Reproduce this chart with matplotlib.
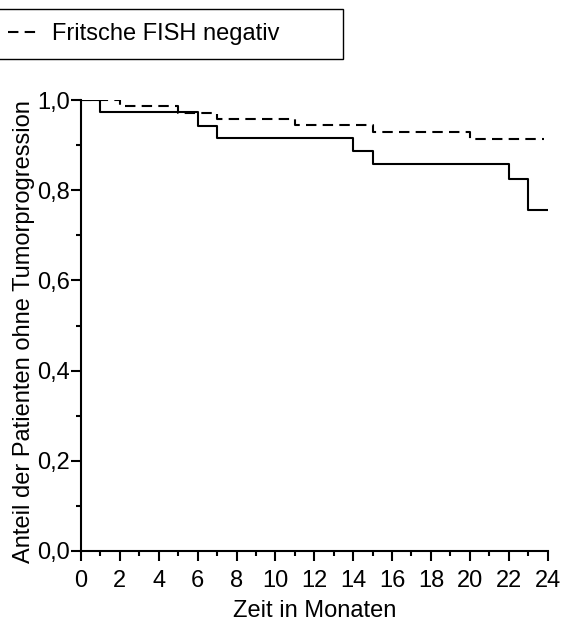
import numpy as np
import matplotlib.pyplot as plt
from matplotlib.lines import Line2D
from matplotlib.patches import Rectangle

plt.rcParams["font.family"] = ["Liberation Sans", "DejaVu Sans"]

# Kaplan-Meier steps
pos_months = [0, 1, 6, 7, 14, 15, 22, 23, 24]
pos_surv = [1.0, 0.973, 0.944, 0.917, 0.888, 0.858, 0.825, 0.756, 0.756]

neg_months = [0, 2, 5, 7, 11, 15, 20, 23.8]
neg_surv = [1.0, 0.987, 0.971, 0.958, 0.945, 0.929, 0.914, 0.914]

xticks = list(range(0, 25, 2))
yticks = [0.0, 0.2, 0.4, 0.6, 0.8, 1.0]
ytick_labels = ["0,0", "0,2", "0,4", "0,6", "0,8", "1,0"]
legend_label = "Fritsche FISH negativ"

W, H = 572, 624
fig = plt.figure(figsize=(W / 100, H / 100), dpi=100)
ax = fig.add_axes([81 / W, 1 - 550.7 / H, (547.5 - 81) / W, (550.7 - 100.3) / H])

ax.step(pos_months, pos_surv, where="post", color="black", lw=1.5)
ax.step(neg_months, neg_surv, where="post", color="black", lw=1.5,
        linestyle=(0, (5, 3)))

ax.set_xlim(0, 24)
ax.set_ylim(0, 1.0)
for s in ["top", "right"]:
    ax.spines[s].set_visible(False)
for s in ["left", "bottom"]:
    ax.spines[s].set_linewidth(1.5)

ax.set_xticks(xticks)
ax.set_xticks(np.arange(0, 25, 1), minor=True)
ax.set_yticks(yticks)
ax.set_yticklabels(ytick_labels)
ax.set_yticks(np.arange(0, 1.01, 0.1), minor=True)
ax.tick_params(which="major", length=7, width=1.5, labelsize=17, color="black")
ax.tick_params(which="minor", length=3.5, width=1.5)
ax.tick_params(axis="y", which="major", pad=1)
ax.tick_params(axis="x", which="major", pad=7)

ax.set_xlabel("Zeit in Monaten", fontsize=17, labelpad=6)
ax.set_ylabel("Anteil der Patienten ohne Tumorprogression", fontsize=17, va="center")
ax.yaxis.set_label_coords((24 - 81) / (547.5 - 81), (550.7 - 332) / (550.7 - 100.3))

# legend, partly outside the left edge like the reference
fig.patches.append(Rectangle((-10 / W, 1 - 59 / H), 353 / W, 50 / H,
                             transform=fig.transFigure, fill=False,
                             edgecolor="black", lw=1))
handle = Line2D([], [], color="black", lw=1.5, linestyle=(0, (5, 3)))
fig.legend(handles=[handle], labels=[legend_label], loc="center left",
           bbox_to_anchor=(8 / W, 1 - 34 / H), frameon=False, fontsize=17,
           handlelength=1.2, handletextpad=0.65, borderpad=0, borderaxespad=0)

fig.savefig("out.png", dpi=100)
